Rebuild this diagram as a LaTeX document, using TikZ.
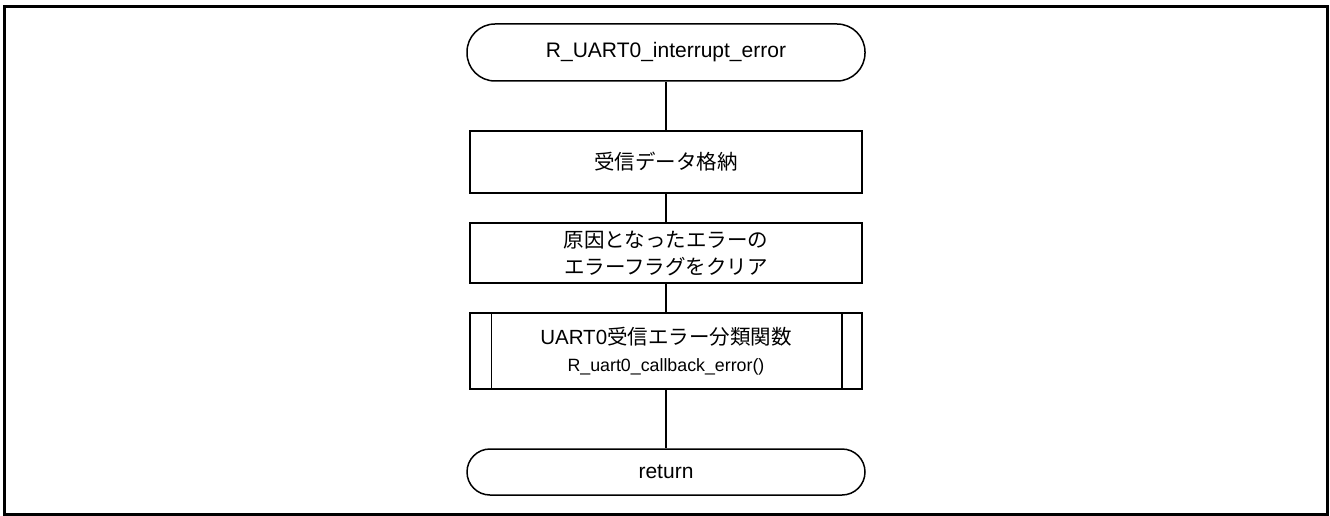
\documentclass[tikz,border=0pt]{standalone}
\usepackage{fontspec}
\setmainfont{Liberation Sans}
\newfontfamily\cjk{Noto Sans CJK JP}
\begin{document}
\begin{tikzpicture}[x=1pt,y=-1pt,
  term/.style={draw, line width=1.5pt, rounded corners=28pt, minimum width=398pt, minimum height=57pt, inner sep=0pt, font=\fontsize{21}{24}\selectfont},
  proc/.style={draw, line width=1.5pt, minimum width=392pt, minimum height=62pt, inner sep=0pt, align=center, font=\fontsize{20.5}{27}\selectfont\cjk},
  link/.style={line width=1.5pt}]
\useasboundingbox (0,0) rectangle (1330,516);
\draw[line width=3pt] (4.5,6.5) rectangle (1327.5,514.5);
\node[term] (start) at (666,52.5) {R\_UART0\_interrupt\_error};
\node[proc] (recv) at (666,162) {受信データ格納};
\node[proc, minimum height=60pt] (clr) at (666,253) {原因となったエラーの\\エラーフラグをクリア};
\node[proc, minimum height=76pt, align=center, font=\fontsize{20.5}{28}\selectfont] (call) at (666,351)
  {UART0{\cjk 受信エラー分類関数}\\[-1pt]{\fontsize{17.8}{20}\selectfont R\_uart0\_callback\_error()}};
\draw[link] ([xshift=22pt]call.north west) -- ([xshift=22pt]call.south west);
\draw[link] ([xshift=-21pt]call.north east) -- ([xshift=-21pt]call.south east);
\node[term, minimum height=46pt, rounded corners=23pt] (ret) at (666,472) {return};
\draw[link] (start) -- (recv);
\draw[link] (recv) -- (clr);
\draw[link] (clr) -- (call);
\draw[link] (call) -- (ret);
\end{tikzpicture}
\end{document}
